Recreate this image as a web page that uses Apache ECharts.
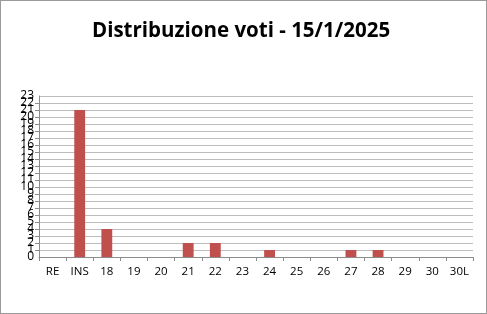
<!DOCTYPE html>
<html>
<head>
<meta charset="utf-8">
<script src="https://cdn.jsdelivr.net/npm/echarts@6/dist/echarts.min.js"></script>
<style>
html,body{margin:0;padding:0;background:#fff;}
#wrap{position:absolute;left:0;top:0;width:485px;height:312px;border:1px solid #9a9a9a;background:#fff;}
#chart{width:485px;height:312px;}
</style>
</head>
<body>
<div id="wrap"><div id="chart"></div></div>
<script>
const titleText = "Distribuzione voti - 15/1/2025";
const categories = ["RE","INS","18","19","20","21","22","23","24","25","26","27","28","29","30","30L"];
const votes = [0,21,4,0,0,2,2,0,1,0,0,1,1,0,0,0];
const yMax = 23;

const labelStyle = {color:'#000',fontFamily:'Open Sans',fontSize:12,margin:5,hideOverlap:false};

const chart = echarts.init(document.getElementById('chart'), null, {renderer:'canvas'});
chart.setOption({
  animation:false,
  title:{
    text:titleText,
    left:86,
    top:15,
    textStyle:{fontFamily:'Open Sans',fontWeight:'bold',fontSize:20.5,color:'#000'}
  },
  grid:{left:38,right:13,top:95,bottom:56,containLabel:false},
  xAxis:{
    type:'category',
    data:categories,
    axisLine:{lineStyle:{color:'#8c8c8c',width:1}},
    axisTick:{show:true,length:4,alignWithLabel:false,lineStyle:{color:'#8c8c8c'}},
    axisLabel:{color:'#000',fontFamily:'Open Sans',fontSize:11.5,margin:9,interval:0}
  },
  yAxis:[{
    type:'value',
    position:'left',
    min:0,max:yMax,interval:1,
    axisLine:{show:true,lineStyle:{color:'#8c8c8c',width:1}},
    axisTick:{show:true,length:4,lineStyle:{color:'#8c8c8c'}},
    splitLine:{lineStyle:{color:'#bdbdbd',width:1}},
    axisLabel:Object.assign({showMinLabel:false,showMaxLabel:false},labelStyle)
  },{
    type:'value',
    position:'left',
    offset:0,
    min:0,max:yMax,interval:yMax,
    axisLine:{show:false},
    axisTick:{show:false},
    splitLine:{show:false},
    axisLabel:Object.assign({showMinLabel:true,showMaxLabel:true},labelStyle)
  }],
  series:[{
    type:'bar',
    yAxisIndex:0,
    data:votes,
    barWidth:'40%',
    itemStyle:{color:'#C0504D'}
  }]
});
</script>
</body>
</html>
